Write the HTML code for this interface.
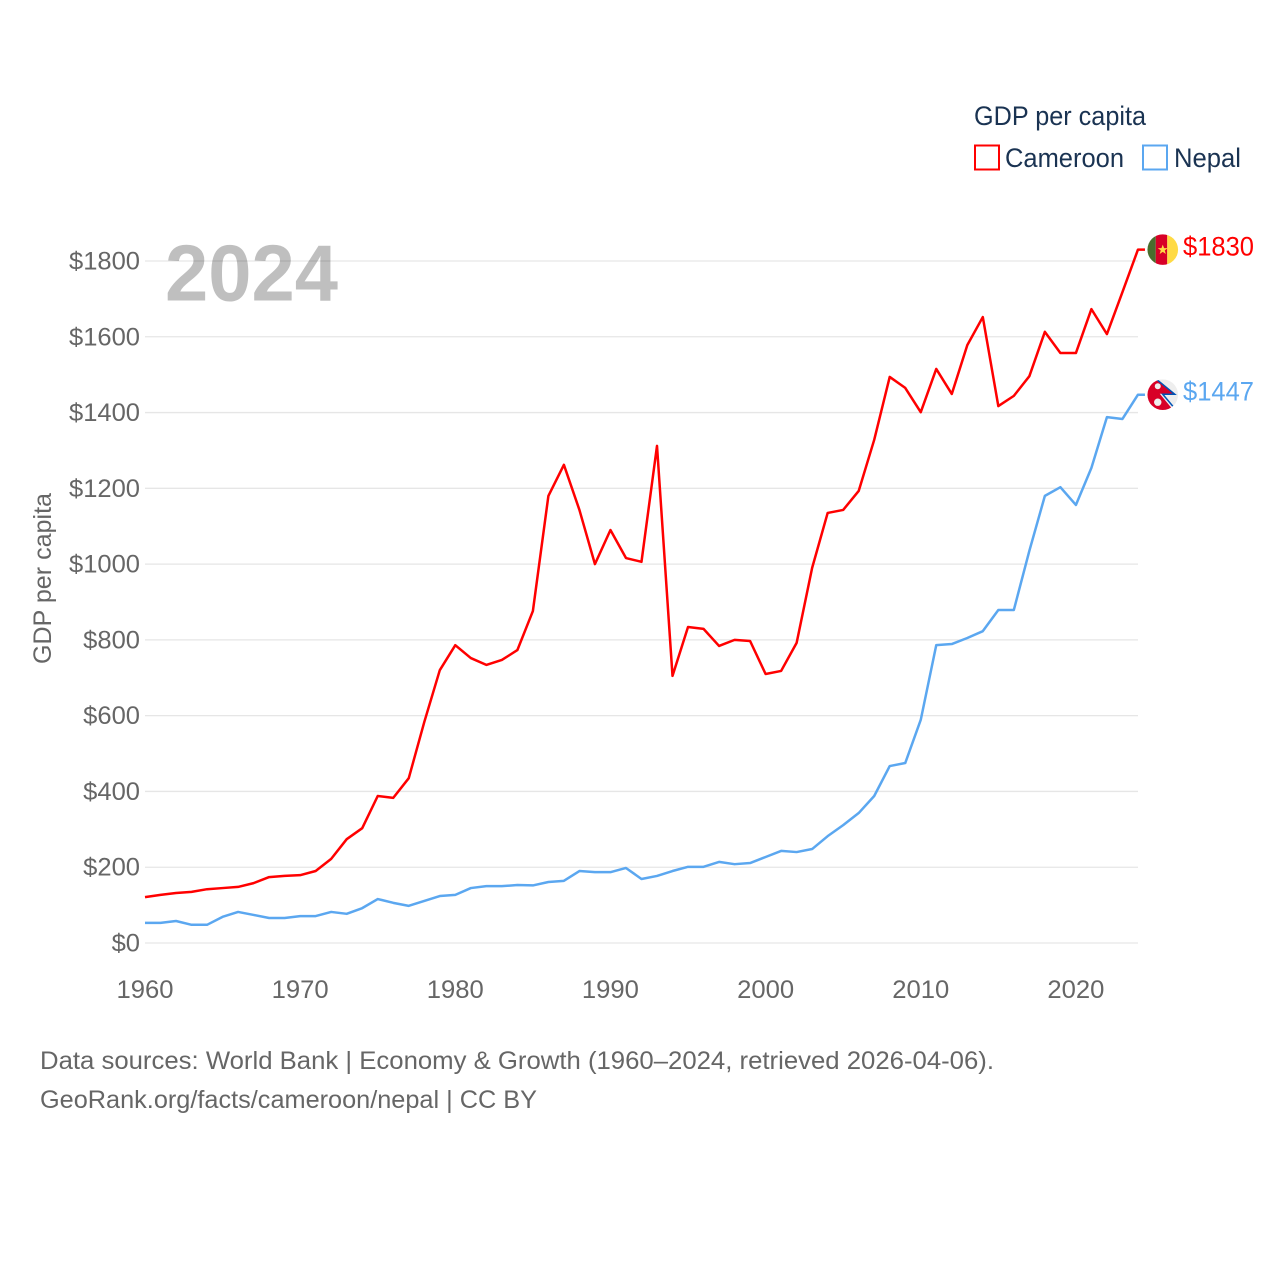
<!DOCTYPE html>
<html lang="en">
<head>
<meta charset="utf-8">
<title>GDP per capita: Cameroon and Nepal</title>
<style>
html,body{margin:0;padding:0;background:#fff;width:1280px;height:1280px;overflow:hidden}
svg{display:block}
text{font-family:"Liberation Sans",sans-serif}
</style>
</head>
<body>
<svg id="chart" xmlns="http://www.w3.org/2000/svg" width="1280" height="1280" viewBox="0 0 1280 1280">
  <rect x="0" y="0" width="1280" height="1280" fill="#fff"/>
  <g id="grid"></g>
  <g id="yticks"></g>
  <g id="xticks"></g>
  <text x="165" y="300.500" font-size="80" font-weight="bold" fill="#000" fill-opacity="0.25" textLength="173" lengthAdjust="spacingAndGlyphs">2024</text>
  <text transform="translate(51,664) rotate(-90)" font-size="25" fill="#666" textLength="171" lengthAdjust="spacingAndGlyphs">GDP per capita</text>
  <g id="series"></g>
  <g>
    <text x="974" y="125" font-size="27" fill="#1a3352" textLength="172" lengthAdjust="spacingAndGlyphs">GDP per capita</text>
    <rect x="975" y="145.500" width="24" height="24" fill="none" stroke="#ff0000" stroke-width="2"/>
    <text x="1005" y="167" font-size="27" fill="#1a3352" textLength="119" lengthAdjust="spacingAndGlyphs">Cameroon</text>
    <rect x="1143" y="145.500" width="24" height="24" fill="none" stroke="#5ba7f0" stroke-width="2"/>
    <text x="1174" y="167" font-size="27" fill="#1a3352" textLength="67" lengthAdjust="spacingAndGlyphs">Nepal</text>
  </g>
  <defs>
    <clipPath id="clip-cm"><circle cx="0" cy="0" r="15.300"/></clipPath>
    <clipPath id="clip-np"><circle cx="0" cy="0" r="15.300"/></clipPath>
  </defs>
  <g id="flag-cm">
    <g clip-path="url(#clip-cm)">
      <rect x="-16" y="-16" width="9" height="32" fill="#496e2d"/>
      <rect x="-7" y="-16" width="11.500" height="32" fill="#d80027"/>
      <rect x="4.500" y="-16" width="12" height="32" fill="#ffda44"/>
      <polygon points="0,-5 1.300,-1.500 5,-1.500 2,0.800 3.100,4.400 0,2.200 -3.100,4.400 -2,0.800 -5,-1.500 -1.300,-1.500" fill="#ffda44"/>
    </g>
  </g>
  <g id="flag-np">
    <g clip-path="url(#clip-np)">
      <rect x="-16" y="-16" width="32" height="32" fill="#eeeeee"/>
      <polygon points="-16,-16 -7,-16 11,-1 -3,-1 11,16 -16,16" fill="#d80027"/>
      <polyline points="-7,-16 12,-0.500 0,-0.500 13,15" fill="none" stroke="#0052b4" stroke-width="1.500"/>
      <circle cx="-5" cy="-8.500" r="3" fill="#eeeeee"/>
      <circle cx="-5" cy="7.500" r="3.700" fill="#eeeeee"/>
    </g>
  </g>
  <text id="label-cm" x="1183" font-size="27" fill="#ff0000" textLength="71" lengthAdjust="spacingAndGlyphs">$1830</text>
  <text id="label-np" x="1183" font-size="27" fill="#5ba7f0" textLength="71" lengthAdjust="spacingAndGlyphs">$1447</text>
  <g>
    <text x="40" y="1069" font-size="25" fill="#666" textLength="954" lengthAdjust="spacingAndGlyphs">Data sources: World Bank | Economy &amp; Growth (1960–2024, retrieved 2026-04-06).</text>
    <text x="40" y="1108" font-size="25" fill="#666" textLength="497" lengthAdjust="spacingAndGlyphs">GeoRank.org/facts/cameroon/nepal | CC BY</text>
  </g>
</svg>
<script>
const yearStart = 1960;
const cameroonValues = [121,127,132,135,142,145,148,158,174,177,179,190,222,274,303,388,383,435,583,720,786,752,734,747,773,876,1180,1262,1143,1000,1090,1016,1006,1312,705,834,829,784,800,797,710,718,792,990,1135,1143,1193,1328,1494,1465,1401,1515,1449,1578,1652,1417,1444,1496,1613,1557,1557,1673,1607,1718,1830];
const nepalValues = [53,53,58,48,48,69,82,74,66,66,71,71,82,77,92,116,106,98,111,124,127,145,150,150,153,152,161,164,190,187,187,198,169,177,190,201,201,214,208,211,227,243,240,248,282,311,343,388,467,475,589,786,789,805,823,879,879,1035,1180,1203,1156,1254,1388,1383,1447];
const yTickValues = [0,200,400,600,800,1000,1200,1400,1600,1800];
const xTickYears = [1960,1970,1980,1990,2000,2010,2020];

const NS = 'http://www.w3.org/2000/svg';
function xScale(year) { return 145 + (year - 1960) * 15.515; }
function yScale(value) { return 943 - value * 0.3789; }

const grid = document.getElementById('grid');
const yticks = document.getElementById('yticks');
const xticks = document.getElementById('xticks');
const series = document.getElementById('series');

yTickValues.forEach(function (v) {
  const line = document.createElementNS(NS, 'line');
  
  
  line.setAttribute('x1', 145);
  line.setAttribute('x2', 1138);
  line.setAttribute('y1', yScale(v));
  line.setAttribute('y2', yScale(v));
  line.setAttribute('stroke', '#e6e6e6');
  line.setAttribute('stroke-width', '1.300');
  grid.appendChild(line);

  const label = '$' + v;
  const t = document.createElementNS(NS, 'text');
  
  
  t.setAttribute('x', 140 - label.length * 14.2);
  t.setAttribute('y', yScale(v) + 8.500);
  t.setAttribute('font-size', '25');
  t.setAttribute('fill', '#666');
  t.setAttribute('textLength', label.length * 14.2);
  t.setAttribute('lengthAdjust', 'spacingAndGlyphs');
  t.textContent = label;
  yticks.appendChild(t);
});

xTickYears.forEach(function (year) {
  const t = document.createElementNS(NS, 'text');
  
  
  t.setAttribute('x', xScale(year) - 28.500);
  t.setAttribute('y', 998);
  t.setAttribute('font-size', '25');
  t.setAttribute('fill', '#666');
  t.setAttribute('textLength', 57);
  t.setAttribute('lengthAdjust', 'spacingAndGlyphs');
  t.textContent = String(year);
  xticks.appendChild(t);
});

function linePoints(values) {
  const pts = values.map(function (v, i) {
    return xScale(yearStart + i).toFixed(2) + ',' + yScale(v).toFixed(2);
  });
  const last = values[values.length - 1];
  pts.push((xScale(yearStart + values.length - 1) + 7).toFixed(2) + ',' + yScale(last).toFixed(2));
  return pts.join(' ');
}

const cmLine = document.createElementNS(NS, 'polyline');


cmLine.setAttribute('points', linePoints(cameroonValues));
cmLine.setAttribute('fill', 'none');
cmLine.setAttribute('stroke', '#ff0000');
cmLine.setAttribute('stroke-width', '2.500');
cmLine.setAttribute('stroke-linejoin', 'round');
series.appendChild(cmLine);

const npLine = document.createElementNS(NS, 'polyline');


npLine.setAttribute('points', linePoints(nepalValues));
npLine.setAttribute('fill', 'none');
npLine.setAttribute('stroke', '#5ba7f0');
npLine.setAttribute('stroke-width', '2.500');
npLine.setAttribute('stroke-linejoin', 'round');
series.appendChild(npLine);

const cmLast = cameroonValues[cameroonValues.length - 1];
const npLast = nepalValues[nepalValues.length - 1];
const flagX = xScale(yearStart + cameroonValues.length - 1) + 24.800;
document.getElementById('flag-cm').setAttribute('transform', 'translate(' + flagX + ',' + yScale(cmLast) + ')');
document.getElementById('flag-np').setAttribute('transform', 'translate(' + flagX + ',' + yScale(npLast) + ')');
document.getElementById('label-cm').setAttribute('y', yScale(cmLast) + 6);
document.getElementById('label-cm').textContent = '$' + cmLast;
document.getElementById('label-np').setAttribute('y', yScale(npLast) + 6);
document.getElementById('label-np').textContent = '$' + npLast;
</script>
</body>
</html>
